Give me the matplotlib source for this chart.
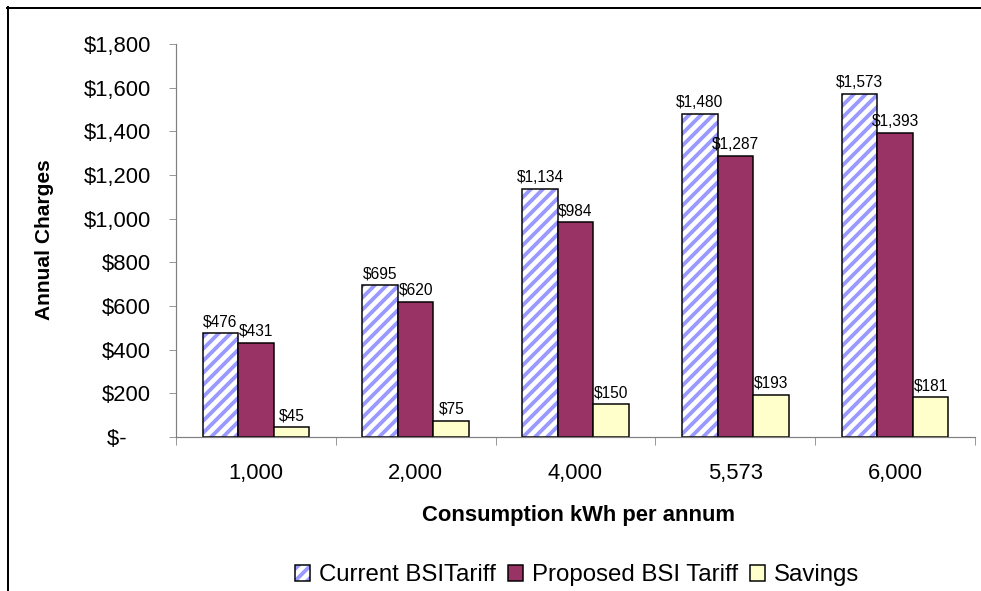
import matplotlib
matplotlib.use("Agg")
import matplotlib.pyplot as plt
from matplotlib.lines import Line2D
from matplotlib.legend_handler import HandlerTuple
import numpy as np

plt.rcParams['font.family'] = ['Liberation Sans', 'DejaVu Sans']
plt.rcParams['hatch.color'] = '#9999FF'
plt.rcParams['hatch.linewidth'] = 3.8

categories = ['1,000', '2,000', '4,000', '5,573', '6,000']
current = [476, 695, 1134, 1480, 1573]
proposed = [431, 620, 984, 1287, 1393]
savings = [45, 75, 150, 193, 181]
yticks = [0, 200, 400, 600, 800, 1000, 1200, 1400, 1600, 1800]

W, H, DPI = 981, 591, 72
fig = plt.figure(figsize=(W / DPI, H / DPI), dpi=DPI)
ax = fig.add_axes([176 / W, 1 - 437 / H, (975 - 176) / W, (437 - 44) / H])

x = np.arange(len(categories))
bw = 0.2225

# current tariff: blue stripes, then black outline on top
b1 = ax.bar(x - bw, current, bw, color='white', hatch='//', linewidth=0)
b1o = ax.bar(x - bw, current, bw, fill=False, edgecolor='black', linewidth=1.5)
b2 = ax.bar(x, proposed, bw, color='#993366', edgecolor='black', linewidth=1.5)
b3 = ax.bar(x + bw, savings, bw, color='#FFFFCC', edgecolor='black', linewidth=1.5)


def money(v):
    return '${:,}'.format(v)


for bars, vals in [(b1, current), (b2, proposed), (b3, savings)]:
    for r, v in zip(bars, vals):
        ax.annotate(money(v), (r.get_x() + r.get_width() / 2, v),
                    xytext=(0, 4), textcoords='offset points',
                    ha='center', va='bottom', fontsize=15.5)

ax.set_xlim(-0.5, len(categories) - 0.5)
ax.set_ylim(0, 1800)
ax.set_yticks(yticks)
ax.set_yticklabels(['$-    '] + [money(v) for v in yticks[1:]], fontsize=22)

ax.set_xticks(np.arange(len(categories) + 1) - 0.5)
ax.set_xticklabels([])
ax.set_xticks(x, minor=True)
ax.set_xticklabels(categories, minor=True, fontsize=22)
ax.tick_params(axis='x', which='minor', length=0, pad=26)
ax.tick_params(axis='x', which='major', length=8, color='#808080', direction='out')
ax.tick_params(axis='y', length=7, color='#808080', pad=18)

for s in ['top', 'right']:
    ax.spines[s].set_visible(False)
for s in ['left', 'bottom']:
    ax.spines[s].set_color('#808080')
    ax.spines[s].set_linewidth(1.2)

fig.text(45 / W, 1 - 240 / H, 'Annual Charges', rotation=90, fontsize=21,
         fontweight='bold', ha='center', va='center')
fig.text(578 / W, 1 - 516 / H, 'Consumption kWh per annum', fontsize=22,
         fontweight='bold', ha='center', va='center')

fig.legend([(b1[0], b1o[0]), b2[0], b3[0]],
           ['Current BSITariff', 'Proposed BSI Tariff', 'Savings'],
           handler_map={tuple: HandlerTuple(ndivide=1)},
           loc='center', bbox_to_anchor=(577 / W, 1 - 575 / H), ncol=3,
           frameon=False, fontsize=24, handlelength=0.65, handleheight=0.65,
           handletextpad=0.35, columnspacing=0.5)

# outer chart frame (top and left edges)
fig.add_artist(Line2D([7 / W, 1], [1 - 7.5 / H, 1 - 7.5 / H], color='black', lw=2))
fig.add_artist(Line2D([7.5 / W, 7.5 / W], [0, 1 - 7 / H], color='black', lw=2))

fig.savefig('out.png', dpi=DPI)
